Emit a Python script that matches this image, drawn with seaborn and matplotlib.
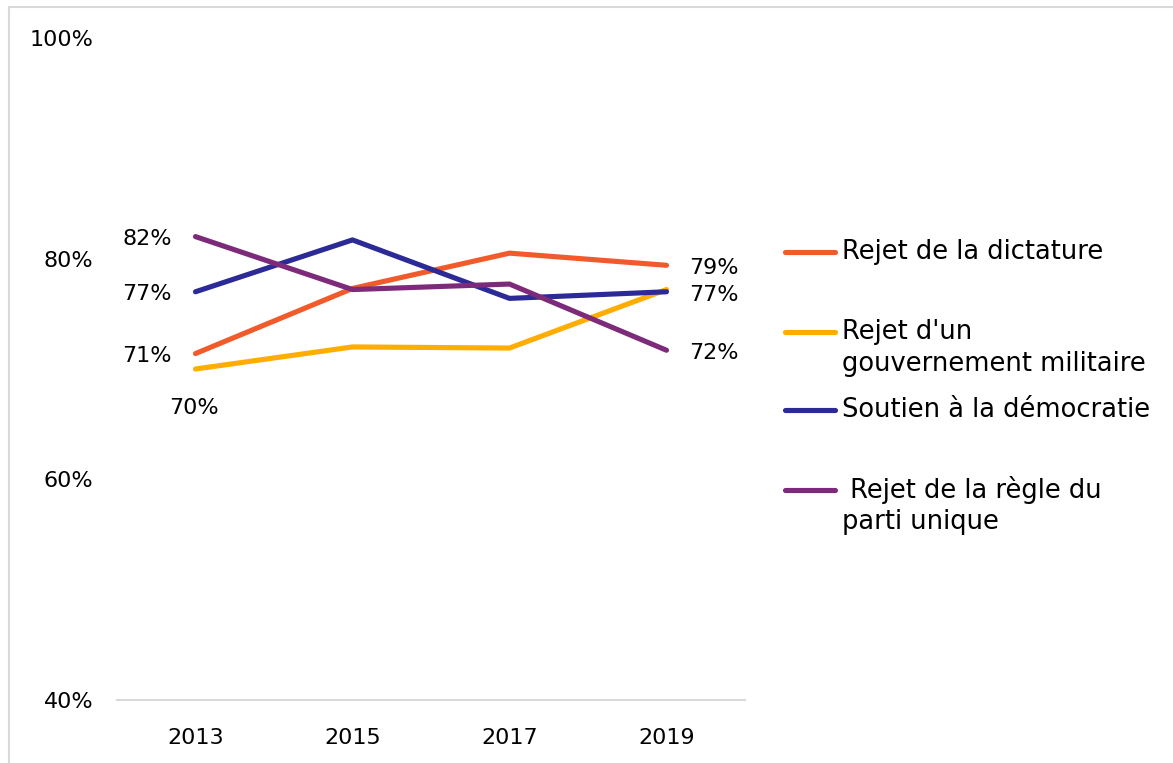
import pandas as pd
import numpy as np
import matplotlib.pyplot as plt
import seaborn as sns
from matplotlib.lines import Line2D

# values (percent)
years = ['2013', '2015', '2017', '2019']
series_names = ['Rejet de la dictature',
                "Rejet d'un\ngouvernement militaire",
                'Soutien à la démocratie',
                ' Rejet de la règle du\nparti unique']
dictature = [71.4, 77.3, 80.5, 79.4]
militaire = [70.0, 72.0, 71.9, 77.2]
democratie = [77.0, 81.7, 76.4, 77.0]
parti_unique = [82.0, 77.2, 77.7, 71.7]
colors = ['#F15A2B', '#FFAD00', '#2B2A96', '#7D2A7A']
y_ticks = [40, 60, 80, 100]

all_values = [dictature, militaire, democratie, parti_unique]
df = pd.DataFrame({
    'Year': years * 4,
    'Value': np.concatenate(all_values),
    'Series': np.repeat(series_names, len(years)),
})
palette = dict(zip(series_names, colors))

sns.set_style('white')
plt.rcParams['font.family'] = ['DejaVu Sans']
plt.rcParams['text.color'] = 'black'

W, H = 1173, 763
fig = plt.figure(figsize=(W / 100, H / 100), dpi=100)
ax = fig.add_axes([117 / W, 1 - 700 / H, (745 - 117) / W, (700 - 38) / H])

sns.lineplot(data=df, x='Year', y='Value', hue='Series', palette=palette,
             linewidth=3.7, legend=False, sort=False, ax=ax)
for line in ax.get_lines():
    line.set_solid_capstyle('round')
    line.set_solid_joinstyle('round')

ax.set_xlim(-0.5, len(years) - 0.5)
ax.set_ylim(40, 100)
ax.set_yticks(y_ticks)
ax.set_yticklabels([f'{t}%' for t in y_ticks])
ax.set_xlabel('')
ax.set_ylabel('')
ax.tick_params(axis='y', length=0, pad=17, labelsize=16, colors='black')
ax.tick_params(axis='x', length=0, pad=20, labelsize=16, colors='black')
for s in ['left', 'right', 'top']:
    ax.spines[s].set_visible(False)
ax.spines['bottom'].set_color('#D9D9D9')
ax.spines['bottom'].set_linewidth(1.5)

# data labels
lab_kw = dict(textcoords='offset points', fontsize=16, color='black')
for vals in [dictature, democratie, parti_unique]:
    ax.annotate(f'{round(vals[0])}%', (0, vals[0]), xytext=(-17, -1.5),
                ha='right', va='center', **lab_kw)
ax.annotate(f'{round(militaire[0])}%', (0, militaire[0]), xytext=(-1, -28),
            ha='center', va='center', **lab_kw)
for vals in [dictature, democratie, parti_unique]:
    ax.annotate(f'{round(vals[-1])}%', (len(years) - 1, vals[-1]), xytext=(16, -2),
                ha='left', va='center', **lab_kw)

# legend drawn by hand so the handle sits on the first text line
legend_rows = [252, 332, 410, 490]
line_gap = 32
for name, col, y in zip(series_names, colors, legend_rows):
    fy = 1 - y / H
    fig.add_artist(Line2D([785 / W, 835 / W], [fy, fy], color=col,
                          linewidth=3.7, solid_capstyle='round'))
    for k, part in enumerate(name.split('\n')):
        fig.text(842 / W, 1 - (y + k * line_gap) / H, part, fontsize=18.5,
                 va='center', ha='left', color='black')

# outer frame
fig.add_artist(Line2D([9 / W, 9 / W], [0, 1 - 7 / H], color='#D9D9D9', linewidth=1.5))
fig.add_artist(Line2D([9 / W, 1], [1 - 7 / H, 1 - 7 / H], color='#D9D9D9', linewidth=1.5))

fig.savefig('out.png', dpi=100)
